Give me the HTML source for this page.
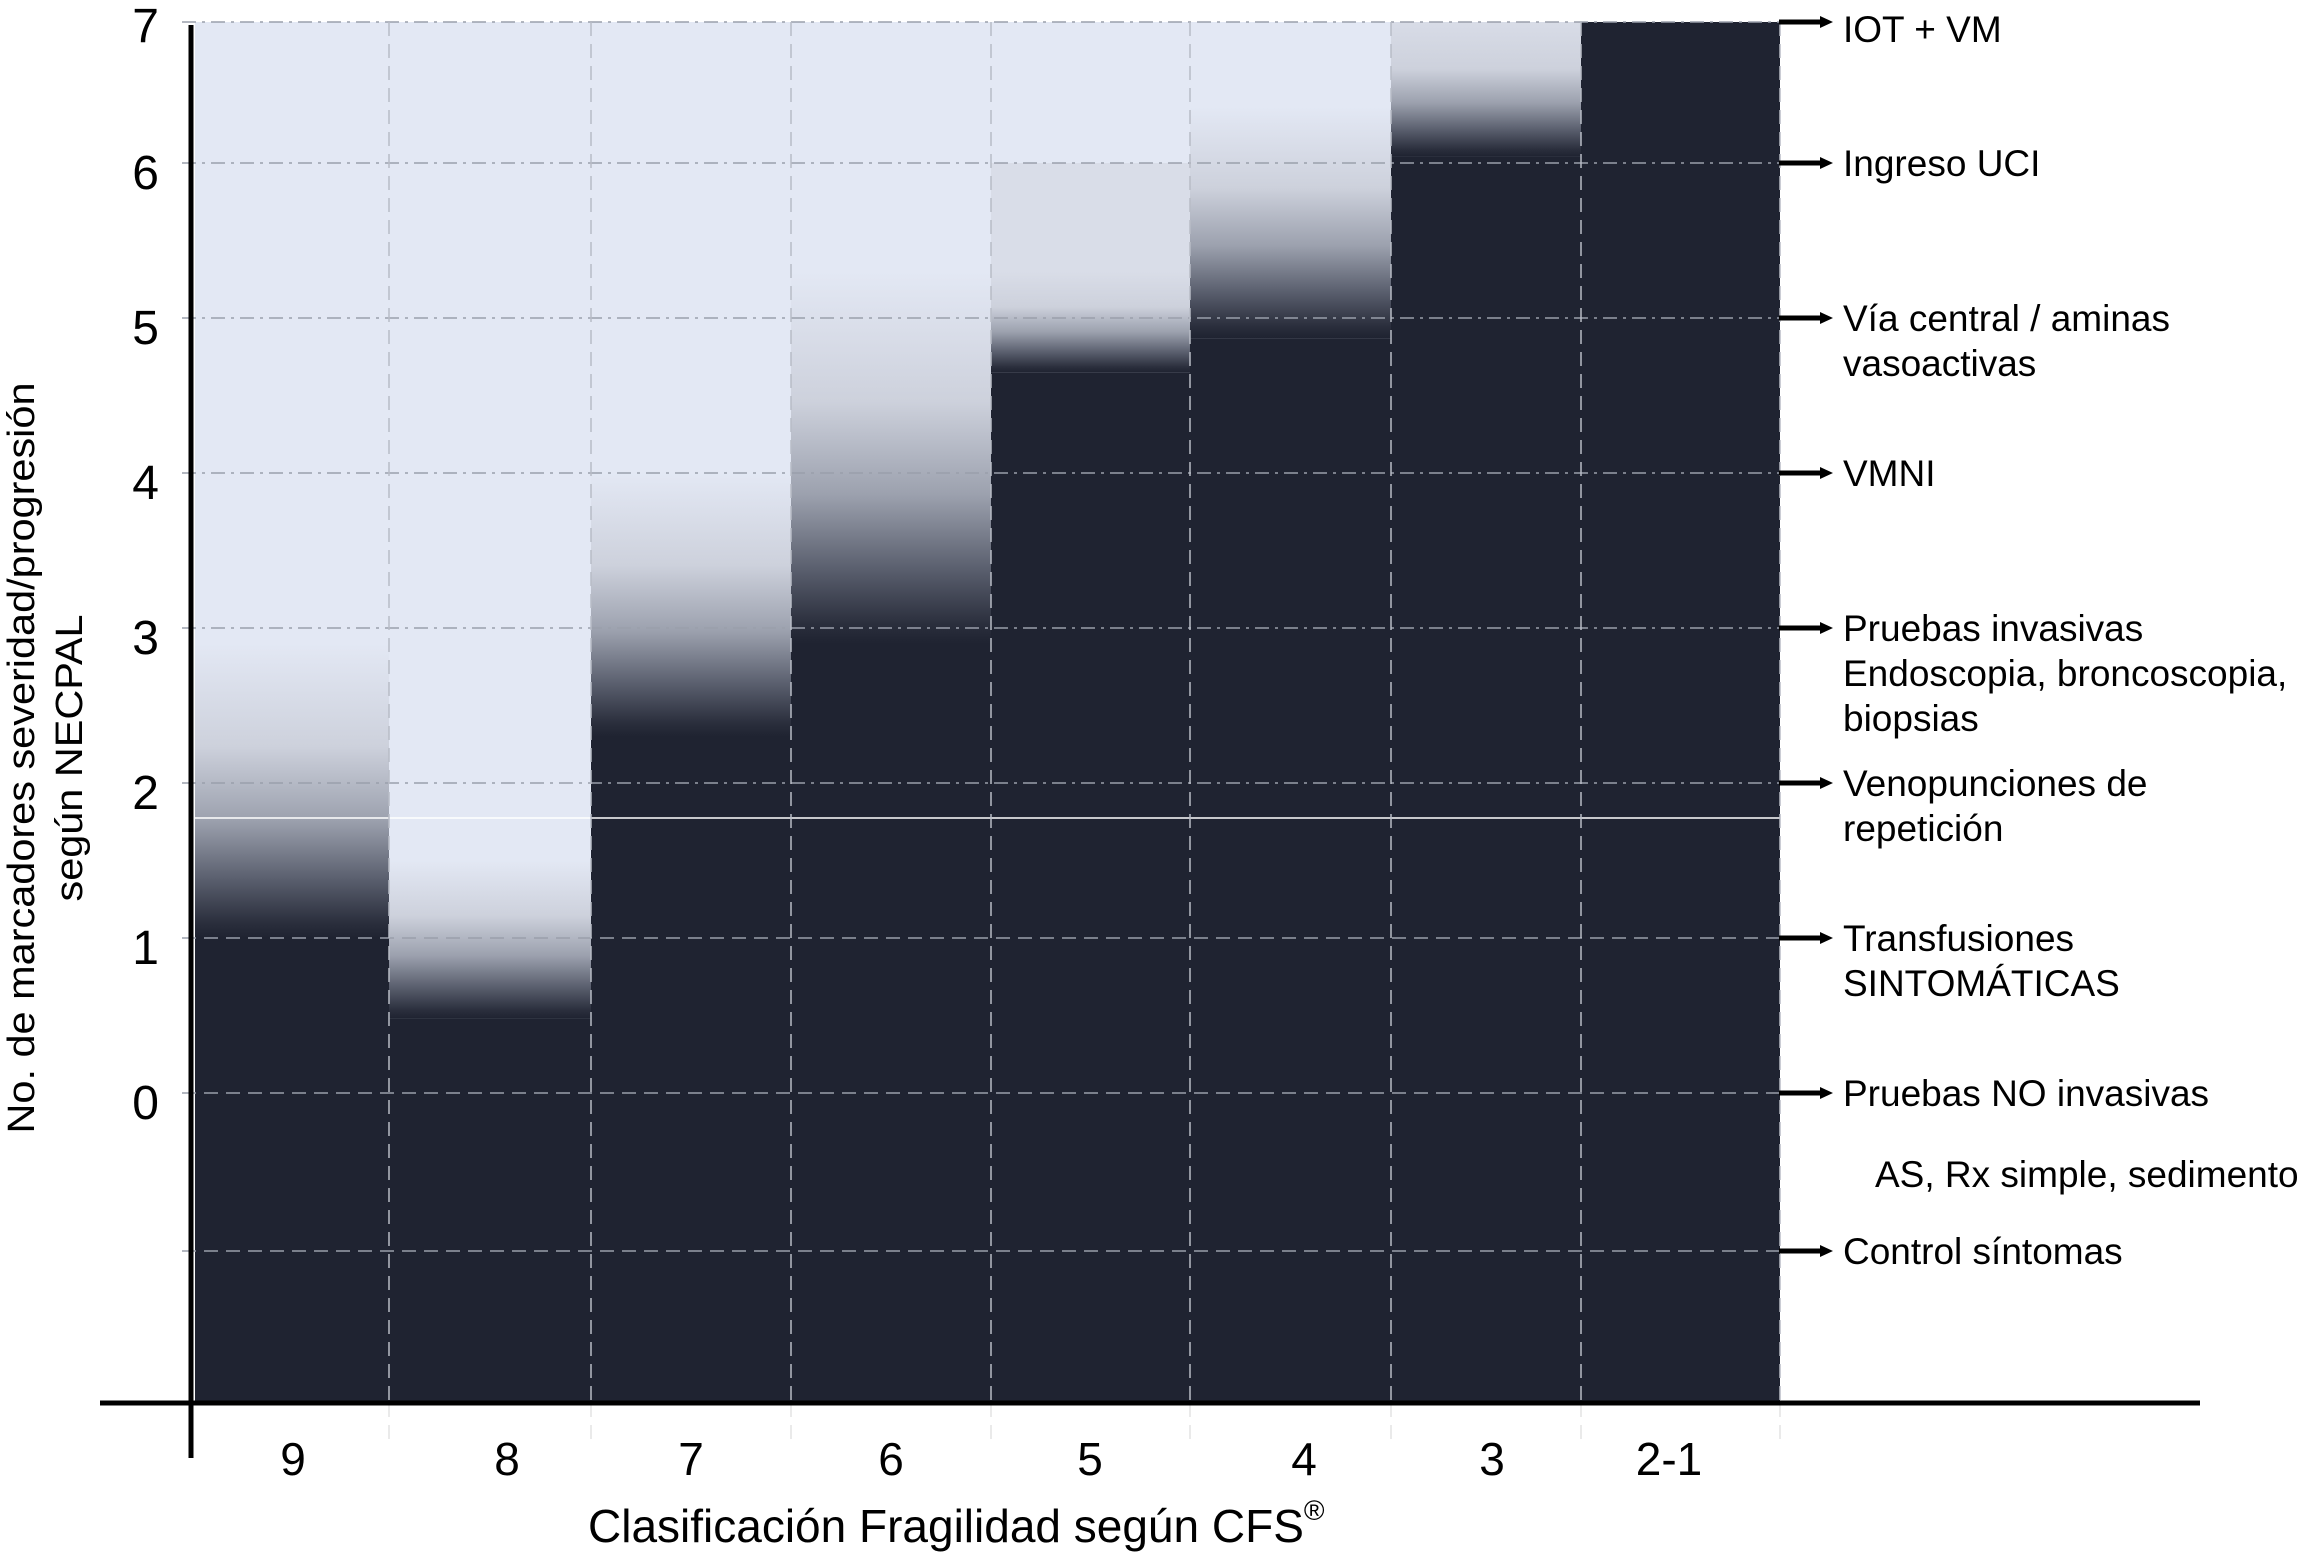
<!DOCTYPE html>
<html><head><meta charset="utf-8">
<style>
html,body{margin:0;padding:0;background:#fff;}
svg{display:block;}
text{font-family:"Liberation Sans",Arial,sans-serif;fill:#000;}
</style></head>
<body>
<svg id="chart" width="2310" height="1554" viewBox="0 0 2310 1554" xmlns="http://www.w3.org/2000/svg">
<defs id="defs"></defs>
<g id="cols"></g>
<g id="grid"></g>
<g id="axes"></g>
<g id="labels"></g>
</svg>
<script>
// data
const categories = ["9","8","7","6","5","4","3","2-1"];
const darkTop = [1.0, 0.48, 2.3, 2.9, 4.65, 4.87, 6.05, 7];
const lightStart = [2.9, 1.5, 4.0, 5.3, 5.3, 6.4, 7.0, 7];
const yTicks = [0,1,2,3,4,5,6,7];
const rightLabels = [
  {v:7, lines:["IOT + VM"]},
  {v:6, lines:["Ingreso UCI"]},
  {v:5, lines:["Vía central / aminas","vasoactivas"]},
  {v:4, lines:["VMNI"]},
  {v:3, lines:["Pruebas invasivas","Endoscopia, broncoscopia,","biopsias"]},
  {v:2, lines:["Venopunciones de","repetición"]},
  {v:1, lines:["Transfusiones","SINTOMÁTICAS"]},
  {v:0, lines:["Pruebas NO invasivas"]},
  {v:-1, lines:["Control síntomas"]}
];

const NS="http://www.w3.org/2000/svg";
const colEdges=[195,389,591,791,991,1190,1391,1581,1780];
const xLabelPos=[293,507,691,891,1090,1304,1492,1669];
function y(v){
  if(v>6) return 163.5-(v-6)*141.5;
  if(v<0) return 1093-v*158;
  return 1093-155*v;
}
const plotTop=y(7), plotBot=1403;
function mk(tag,attrs,parent){const e=document.createElementNS(NS,tag);for(const k in attrs)e.setAttribute(k,attrs[k]);parent.appendChild(e);return e;}
const defs=document.getElementById('defs'),cols=document.getElementById('cols'),grid=document.getElementById('grid'),axes=document.getElementById('axes'),labels=document.getElementById('labels');
const DARK="#1f2331", LIGHT="#e3e8f4";

categories.forEach((c,i)=>{
  const x0=colEdges[i], x1=colEdges[i+1];
  const yd=y(darkTop[i]), yl=y(lightStart[i]);
  const bg=mk('rect',{x:x0,y:plotTop,width:x1-x0,height:plotBot-plotTop,fill:LIGHT},cols);
  
  
  if(c==="5"){ mk('rect',{x:x0,y:y(6),width:x1-x0,height:y(5.3)-y(6),fill:"#d9dde8"},cols); }
  if(c==="3"){ mk('rect',{x:x0,y:plotTop,width:x1-x0,height:yd-plotTop,fill:"#d8dce7"},cols); }
  if(yd>yl+1){
    const gid='g'+i;
    const g=mk('linearGradient',{id:gid,x1:0,y1:0,x2:0,y2:1},defs);
    const top = (c==="3")?"#d8dce7":(c==="5"?"#d9dde8":LIGHT);
    mk('stop',{offset:0,'stop-color':top},g);
    mk('stop',{offset:0.35,'stop-color':"#cdd1dc"},g);
    mk('stop',{offset:0.6,'stop-color':"#9ca1ae"},g);
    mk('stop',{offset:0.8,'stop-color':"#5a5f6e"},g);
    mk('stop',{offset:0.95,'stop-color':"#2a2e3c"},g);
    mk('stop',{offset:1,'stop-color':DARK},g);
    const gr=mk('rect',{x:x0,y:yl,width:x1-x0,height:yd-yl,fill:'url(#'+gid+')'},cols);
    
    
  }
  const d=mk('rect',{x:x0,y:yd,width:x1-x0,height:plotBot-yd,fill:DARK},cols);
  
  
  const t=mk('text',{x:xLabelPos[i],y:1475,'font-size':46,'text-anchor':'middle'},labels);
  t.textContent=c;
  
  
});
mk('line',{x1:195,x2:1780,y1:818,y2:818,stroke:"#fff",'stroke-width':1.5},grid);
[...yTicks,-1].forEach(v=>{
  const l=mk('line',{x1:182,x2:1780,y1:y(v),y2:y(v),stroke:"#9a9fab",'stroke-width':1.5,'stroke-dasharray':v>=2?"14 6 3 6":"14 8"},grid);
  
  
});
colEdges.slice(1).forEach((x,i)=>{
  mk('line',{x1:x,x2:x,y1:plotTop,y2:plotBot,stroke:"#b8bcc6",'stroke-width':1.5,'stroke-dasharray':"14 8"},grid);
  mk('line',{x1:x,x2:x,y1:plotBot,y2:1440,stroke:"#e4e4e4",'stroke-width':1.5,'stroke-dasharray':"14 8"},grid);
});
let a=mk('line',{x1:191,x2:191,y1:25,y2:1458,stroke:"#000",'stroke-width':5},axes);

a=mk('line',{x1:100,x2:2200,y1:1403,y2:1403,stroke:"#000",'stroke-width':5},axes);

yTicks.forEach(v=>{
  const t=mk('text',{x:159,y:y(v)+(v===7?20:26),'font-size':48,'text-anchor':'end'},labels);
  t.textContent=String(v);
  
  
});
rightLabels.forEach(r=>{
  const yy=y(r.v);
  mk('line',{x1:1779,x2:1822,y1:yy,y2:yy,stroke:"#000",'stroke-width':5},axes);
  mk('polygon',{points:`1820,${yy-6} 1833,${yy} 1820,${yy+6}`,fill:"#000"},axes);
  r.lines.forEach((ln,k)=>{
    const t=mk('text',{x:1843,y:yy+(r.v===7?20:13)+k*45,'font-size':37},labels);
    t.textContent=ln;
    
    
  });
});
let t=mk('text',{x:1875,y:1187,'font-size':37},labels);
t.textContent="AS, Rx simple, sedimento";


t=mk('text',{x:588,y:1542,'font-size':46},labels);
t.innerHTML='Clasificación Fragilidad según CFS<tspan font-size="28" dy="-22">®</tspan>';


t=mk('text',{transform:'translate(34,758) rotate(-90)','font-size':38,'text-anchor':'middle',textLength:751,lengthAdjust:'spacingAndGlyphs'},labels);
t.textContent="No. de marcadores severidad/progresión";


t=mk('text',{transform:'translate(82,758) rotate(-90)','font-size':38,'text-anchor':'middle',textLength:287,lengthAdjust:'spacingAndGlyphs'},labels);
t.textContent="según NECPAL";


</script>
</body></html>
